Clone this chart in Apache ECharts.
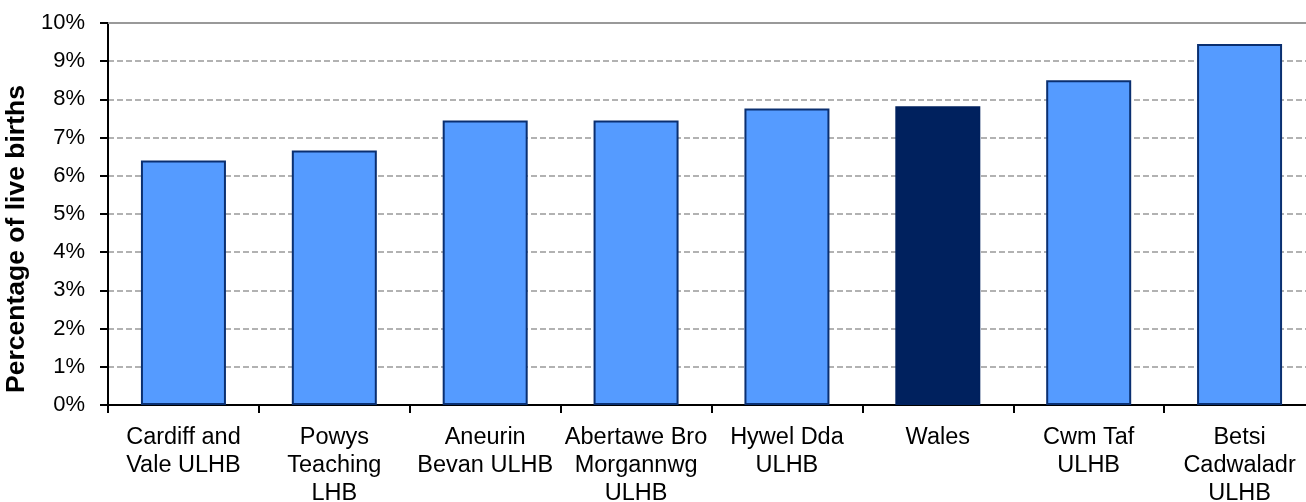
<!DOCTYPE html>
<html>
<head>
<meta charset="utf-8">
<script src="https://cdn.jsdelivr.net/npm/echarts@6/dist/echarts.min.js"></script>
<style>
html,body{margin:0;padding:0;background:#fff;}
#chart{width:1306px;height:502px;}
</style>
</head>
<body>
<div id="chart"></div>
<script>
const categories = [
  'Cardiff and\nVale ULHB',
  'Powys\nTeaching\nLHB',
  'Aneurin\nBevan ULHB',
  'Abertawe Bro\nMorgannwg\nULHB',
  'Hywel Dda\nULHB',
  'Wales',
  'Cwm Taf\nULHB',
  'Betsi\nCadwaladr\nULHB'
];
const values = [6.40, 6.66, 7.45, 7.45, 7.76, 7.82, 8.50, 9.45];
const yTicks = [0, 1, 2, 3, 4, 5, 6, 7, 8, 9, 10];
const highlightCategory = 'Wales';

const FONT = '"Liberation Sans", Arial, sans-serif';
const barData = values.map((v, i) => {
  const hi = categories[i] === highlightCategory;
  return {
    value: v,
    itemStyle: {
      color: hi ? '#00215E' : '#559BFF',
      borderColor: hi ? '#00215E' : '#0A2F70',
      borderWidth: 2
    }
  };
});

const chart = echarts.init(document.getElementById('chart'), null, {renderer: 'canvas'});
chart.setOption({
  animation: false,
  backgroundColor: '#ffffff',
  grid: {left: 108, top: 23, width: 1207, height: 382, containLabel: false, outerBoundsMode: 'none'},
  xAxis: [{
    type: 'category',
    data: categories,
    boundaryGap: true,
    axisLine: {show: true, lineStyle: {color: '#000', width: 2}},
    axisTick: {show: true, length: 8, alignWithLabel: false, lineStyle: {color: '#000', width: 2}},
    axisLabel: {
      interval: 0, margin: 19, color: '#000',
      fontFamily: FONT, fontSize: 23.5, lineHeight: 28
    },
    splitLine: {show: false}
  }, {
    type: 'category',
    data: categories,
    position: 'top',
    axisLine: {show: true, lineStyle: {color: '#999', width: 2}},
    axisTick: {show: false},
    axisLabel: {show: false}
  }],
  yAxis: {
    type: 'value',
    min: yTicks[0],
    max: yTicks[yTicks.length - 1],
    interval: 1,
    name: 'Percentage of live births',
    nameLocation: 'middle',
    nameGap: 67,
    nameTextStyle: {fontFamily: FONT, fontSize: 26.5, fontWeight: 'bold', color: '#000', padding: [0, 50, 0, 0]},
    axisLine: {show: true, lineStyle: {color: '#000', width: 2}},
    axisTick: {show: true, length: 8, lineStyle: {color: '#000', width: 2}},
    axisLabel: {
      margin: 23, color: '#000', fontFamily: FONT, fontSize: 22,
      formatter: v => v + '%'
    },
    splitLine: {show: true, lineStyle: {color: '#999', width: 1.5, type: [6, 3]}}
  },
  series: [{
    type: 'bar',
    data: barData,
    barWidth: 85
  }]
});
</script>
</body>
</html>
